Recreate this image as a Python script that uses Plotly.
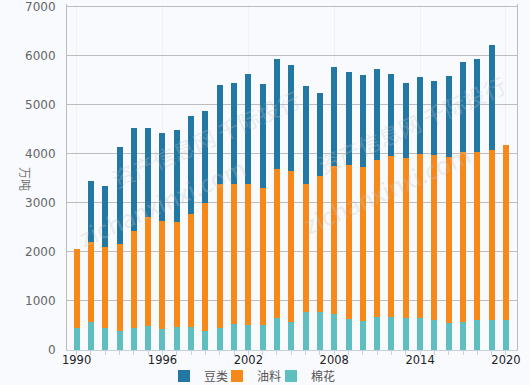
import plotly.graph_objects as go

years = list(range(1990, 2021))
cotton = [455, 575, 455, 378, 440, 480, 420, 462, 462, 385, 450, 540, 500, 500, 645, 580,
          770, 770, 735, 627, 590, 665, 670, 650, 650, 615, 550, 573, 620, 612, 612]
oilseeds = [1612, 1633, 1635, 1792, 1975, 2235, 2213, 2153, 2303, 2602, 2940, 2850, 2890, 2805,
            3047, 3070, 2620, 2780, 3017, 3145, 3142, 3207, 3283, 3263, 3343, 3358, 3383, 3461,
            3414, 3462, 3562]
beans = [None, 1242, 1255, 1960, 2103, 1800, 1785, 1878, 1995, 1888, 2010, 2050, 2232, 2115,
         2230, 2150, 1988, 1685, 2008, 1885, 1866, 1848, 1667, 1523, 1565, 1504, 1645, 1826,
         1906, 2136, None]
label_years = [1990, 1996, 2002, 2008, 2014, 2020]
y_ticks = [0, 1000, 2000, 3000, 4000, 5000, 6000, 7000]

BG = "#f8fafd"
FONT = "DejaVu Sans, Noto Sans CJK SC, sans-serif"
CJK = "Noto Sans CJK SC, sans-serif"

fig = go.Figure()
fig.add_trace(go.Bar(x=years, y=cotton, name="棉花", marker=dict(color="#5fbfc0", line=dict(width=0)),
                     width=0.42, legend="legend3"))
fig.add_trace(go.Bar(x=years, y=oilseeds, name="油料", marker=dict(color="#f7891b", line=dict(width=0)),
                     width=0.42, legend="legend2"))
fig.add_trace(go.Bar(x=years, y=beans, name="豆类", marker=dict(color="#2277a3", line=dict(width=0)),
                     width=0.42, legend="legend"))

def leg(xpx):
    return dict(orientation="h", xref="container", yref="container", x=xpx / 530, xanchor="left",
                y=9 / 385, yanchor="middle", itemwidth=30,
                font=dict(size=12, color="#555", family=CJK), bgcolor="rgba(0,0,0,0)")

fig.update_layout(
    width=530, height=385,
    margin=dict(l=67, r=13, t=4, b=35, autoexpand=False),
    barmode="stack",
    paper_bgcolor=BG, plot_bgcolor=BG,
    font=dict(family=FONT, size=12, color="#555"),
    showlegend=True,
    legend=leg(164), legend2=leg(217), legend3=leg(271),
    xaxis=dict(range=[1989.33, 2020.77], tickvals=label_years, ticktext=[str(v) for v in label_years],
               showgrid=True, gridcolor="#eef1f6", gridwidth=1,
               showline=True, linecolor="#c6d0dc", linewidth=1,
               ticks="outside", ticklen=4, tickcolor="#c6d0dc",
               minor=dict(dtick=1, tick0=1990, ticks="outside", ticklen=4, tickcolor="#c6d0dc", showgrid=False),
               tickfont=dict(size=11.5, color="#222"), zeroline=False, fixedrange=True,
               ticklabelstandoff=-5, ticklabeloverflow="allow"),
    yaxis=dict(range=[0, 7051], tickvals=y_ticks, showgrid=True, gridcolor="#bdbdbd", gridwidth=1,
               showline=True, linecolor="#bdbdbd", linewidth=1, mirror=True,
               ticks="", tickfont=dict(size=12, color="#666"), ticklabelstandoff=8,
               zeroline=False, fixedrange=True, ticklabeloverflow="allow"),
)

wm_color = "rgba(195,195,195,0.30)"
for (cx, cy, txt, sz) in [
    (0.082, 0.614, "资产信息网 千际投行", 22),
    (0.007, 0.429, "zichanxinxi.com", 24),
    (0.991, 0.652, "资产信息网 千际投行", 22),
    (0.916, 0.467, "zichanxinxi.com", 24),
]:
    fig.add_annotation(x=cx, y=cy, xref="paper", yref="paper", text=txt, showarrow=False,
                       textangle=-24, font=dict(size=sz, color=wm_color, family=CJK))

fig.add_annotation(x=-0.1156, y=0.493, xref="paper", yref="paper", text="万吨", showarrow=False,
                   textangle=90, font=dict(size=12, color="#777", family=CJK))

fig.write_html("out.html", config={"displayModeBar": False},
               post_script="document.body.style.margin='0';document.body.style.overflow='hidden';")
